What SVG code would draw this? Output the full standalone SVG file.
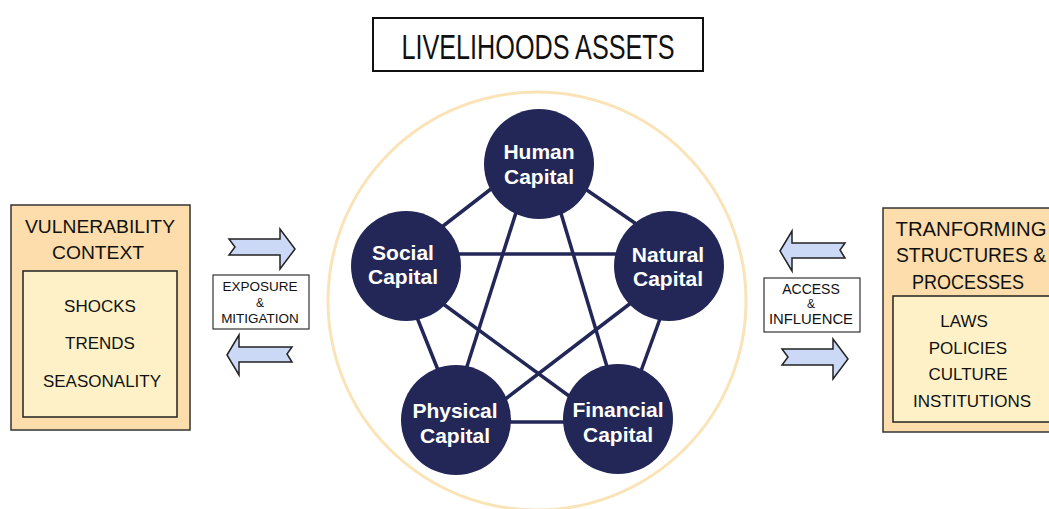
<svg xmlns="http://www.w3.org/2000/svg" width="1049" height="509" viewBox="0 0 1049 509">
<style>
.t{font-family:"Liberation Sans",Arial,sans-serif;fill:#111;text-anchor:middle}
.n{font-family:"Liberation Sans",Arial,sans-serif;font-weight:bold;font-size:21px;fill:#fff;text-anchor:middle}
.node{fill:#232757}
.outer{fill:#FCDDAB;stroke:#333;stroke-width:1.5}
.inner{fill:#FEF1C8;stroke:#222;stroke-width:1.5}
.lbl{fill:#fff;stroke:#333;stroke-width:1.2}
.arrow{fill:#CCD9F6;stroke:#222;stroke-width:1.5;stroke-linejoin:miter}
.edge{stroke:#232757;stroke-width:3.5;fill:none}
</style>
<rect width="1049" height="509" fill="#fff"/>

<g id="title">
<rect x="373" y="18" width="330" height="53" fill="#fff" stroke="#111" stroke-width="2"/>
<text class="t" x="538" y="59" font-size="35" textLength="273" lengthAdjust="spacingAndGlyphs">LIVELIHOODS ASSETS</text>
</g>

<g id="assets-circle">
<circle cx="537" cy="301" r="209" fill="none" stroke="#FBE3B8" stroke-width="3"/>
</g>

<g id="connectors">
<line class="edge" x1="500" y1="182" x2="434" y2="233"/>
<line class="edge" x1="578" y1="184" x2="645" y2="230"/>
<line class="edge" x1="520" y1="200" x2="462" y2="382"/>
<line class="edge" x1="557" y1="200" x2="611" y2="380"/>
<line class="edge" x1="450" y1="254" x2="625" y2="254"/>
<line class="edge" x1="412" y1="305" x2="442" y2="380"/>
<line class="edge" x1="435" y1="298" x2="580" y2="404"/>
<line class="edge" x1="640" y1="296" x2="495" y2="407"/>
<line class="edge" x1="665" y1="305" x2="637" y2="382"/>
<line class="edge" x1="500" y1="422" x2="575" y2="422"/>
</g>

<g id="human">
<circle class="node" cx="539" cy="164" r="55"/>
<text class="n" x="539" y="159">Human</text>
<text class="n" x="539" y="184">Capital</text>
</g>
<g id="social">
<circle class="node" cx="406" cy="266" r="55"/>
<text class="n" x="403" y="260">Social</text>
<text class="n" x="403" y="284">Capital</text>
</g>
<g id="natural">
<circle class="node" cx="669" cy="266" r="55"/>
<text class="n" x="668" y="262">Natural</text>
<text class="n" x="668" y="286">Capital</text>
</g>
<g id="physical">
<circle class="node" cx="456" cy="420" r="55"/>
<text class="n" x="455" y="418">Physical</text>
<text class="n" x="455" y="443">Capital</text>
</g>
<g id="financial">
<circle class="node" cx="618" cy="419" r="55"/>
<text class="n" x="618" y="417">Financial</text>
<text class="n" x="618" y="442">Capital</text>
</g>

<g id="vulnerability">
<rect class="outer" x="11" y="205" width="179" height="225"/>
<text class="t" x="100" y="233" font-size="18" textLength="150" lengthAdjust="spacingAndGlyphs">VULNERABILITY</text>
<text class="t" x="98" y="259" font-size="18" textLength="92" lengthAdjust="spacingAndGlyphs">CONTEXT</text>
<rect class="inner" x="23" y="271" width="154" height="146"/>
<text class="t" x="100" y="312" font-size="17">SHOCKS</text>
<text class="t" x="100" y="349" font-size="17">TRENDS</text>
<text class="t" x="102" y="387" font-size="17">SEASONALITY</text>
</g>

<g id="exposure">
<path class="arrow" d="M229,239 L280,239 L280,229 L295,249 L280,269 L280,255 L229,255 L235,247 Z"/>
<rect class="lbl" x="213" y="275" width="96" height="54"/>
<text class="t" x="260" y="291" font-size="13.5">EXPOSURE</text>
<text class="t" x="260" y="307" font-size="12">&amp;</text>
<text class="t" x="260" y="323" font-size="13.5">MITIGATION</text>
<path class="arrow" d="M227,355 L239,335 L239,347 L292,347 L287,354 L292,362 L239,362 L239,375 Z"/>
</g>

<g id="access">
<path class="arrow" d="M780,251 L792,231 L792,243 L845,243 L840,250 L845,258 L792,258 L792,271 Z"/>
<rect class="lbl" x="764" y="278" width="96" height="54"/>
<text class="t" x="811" y="294" font-size="14">ACCESS</text>
<text class="t" x="811" y="308" font-size="12">&amp;</text>
<text class="t" x="811" y="324" font-size="14" textLength="84" lengthAdjust="spacingAndGlyphs">INFLUENCE</text>
<path class="arrow" d="M782,349 L833,349 L833,339 L848,359 L833,379 L833,365 L782,365 L788,357 Z"/>
</g>

<g id="transforming">
<rect class="outer" x="883" y="208" width="180" height="224"/>
<text class="t" x="971" y="236" font-size="19.5" textLength="151" lengthAdjust="spacingAndGlyphs">TRANFORMING</text>
<text class="t" x="971" y="262" font-size="19.5" textLength="150" lengthAdjust="spacingAndGlyphs">STRUCTURES &amp;</text>
<text class="t" x="968" y="289" font-size="19.5" textLength="112" lengthAdjust="spacingAndGlyphs">PROCESSES</text>
<rect class="inner" x="893" y="296" width="170" height="126"/>
<text class="t" x="964" y="327" font-size="17">LAWS</text>
<text class="t" x="968" y="354" font-size="17">POLICIES</text>
<text class="t" x="968" y="380" font-size="17">CULTURE</text>
<text class="t" x="972" y="407" font-size="17">INSTITUTIONS</text>
</g>
</svg>
